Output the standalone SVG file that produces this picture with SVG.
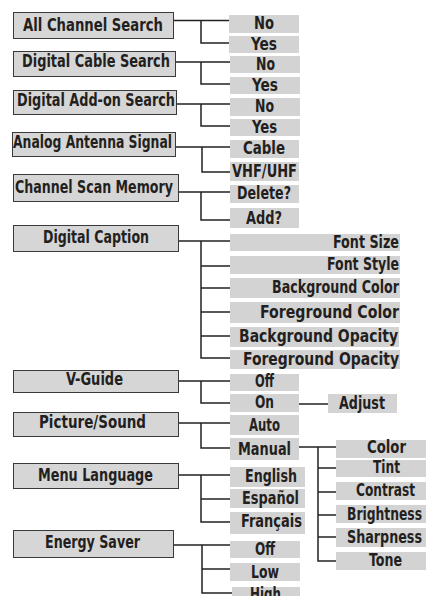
<svg xmlns="http://www.w3.org/2000/svg" width="426" height="596" viewBox="0 0 426 596">
<style>
.mb{fill:#d6d6d6;stroke:#3a3a3a;stroke-width:1}
.sb{fill:#d3d3d3}
text{font-family:"Liberation Sans Narrow","DejaVu Sans Condensed","Liberation Sans",Arial,sans-serif;font-weight:bold;font-size:17.5px;fill:#231f20}
.big{font-size:18.5px}
.c{fill:none;stroke:#222;stroke-width:1.5}
</style>
<rect width="426" height="596" fill="#fff"/>
<g id="connectors" class="c">
<path d="M174 20.5H229M201 20.5V43H229"/>
<path d="M176 62H230M201 62V84H230"/>
<path d="M177 104H230M201 104V126H230"/>
<path d="M176 147H230M202 147V172H230"/>
<path d="M179 192H230M201 192V220H230"/>
<path d="M179 241H230M201 241V358H230M201 266H230M201 288H230M201 312H230M201 336H230"/>
<path d="M179 381H230M201 381V403H230M299 404H328"/>
<path d="M179 423H230M201 423V448H230M299 447H336M318 447V561H336M318 468H336M318 492H336M318 515H336M318 537H336"/>
<path d="M179 475H230M201 475V522H230M201 499H230"/>
<path d="M174 545H230M202 545V593H232M202 569H230"/>
</g>
<g id="all-channel-search"><rect class="mb" x="13.5" y="12.5" width="160" height="26"/><text x="23" y="31" textLength="140" lengthAdjust="spacingAndGlyphs">All Channel Search</text></g>
<g id="digital-cable-search"><rect class="mb" x="13.5" y="51.5" width="162" height="25"/><text x="22" y="67" textLength="148" lengthAdjust="spacingAndGlyphs">Digital Cable Search</text></g>
<g id="digital-addon-search"><rect class="mb" x="13.5" y="90.5" width="163" height="24"/><text x="17" y="106" textLength="158" lengthAdjust="spacingAndGlyphs">Digital Add-on Search</text></g>
<g id="analog-antenna-signal"><rect class="mb" x="12.5" y="132.5" width="163" height="24"/><text x="13" y="148" textLength="159" lengthAdjust="spacingAndGlyphs">Analog Antenna Signal</text></g>
<g id="channel-scan-memory"><rect class="mb" x="13.5" y="174.5" width="165" height="27"/><text x="15" y="193" textLength="158" lengthAdjust="spacingAndGlyphs">Channel Scan Memory</text></g>
<g id="digital-caption"><rect class="mb" x="13.5" y="225.5" width="165" height="26"/><text x="43" y="243" textLength="106" lengthAdjust="spacingAndGlyphs">Digital Caption</text></g>
<g id="v-guide"><rect class="mb" x="13.5" y="370.5" width="165" height="22"/><text x="66" y="385" textLength="57" lengthAdjust="spacingAndGlyphs">V-Guide</text></g>
<g id="picture-sound"><rect class="mb" x="13.5" y="412.5" width="165" height="24"/><text x="39" y="428" textLength="107" lengthAdjust="spacingAndGlyphs">Picture/Sound</text></g>
<g id="menu-language"><rect class="mb" x="13.5" y="463.5" width="165" height="25"/><text x="38" y="481" textLength="115" lengthAdjust="spacingAndGlyphs">Menu Language</text></g>
<g id="energy-saver"><rect class="mb" x="13.5" y="530.5" width="160" height="27"/><text x="45" y="548" textLength="95" lengthAdjust="spacingAndGlyphs">Energy Saver</text></g>

<g id="acs-no"><rect class="sb" x="229" y="15" width="70" height="18"/><text x="254" y="29" textLength="20" lengthAdjust="spacingAndGlyphs">No</text></g>
<g id="acs-yes"><rect class="sb" x="229" y="36" width="70" height="17"/><text x="251" y="50" textLength="26" lengthAdjust="spacingAndGlyphs">Yes</text></g>
<g id="dcs-no"><rect class="sb" x="230" y="56" width="70" height="17"/><text x="256" y="70" textLength="19" lengthAdjust="spacingAndGlyphs">No</text></g>
<g id="dcs-yes"><rect class="sb" x="230" y="77" width="70" height="17"/><text x="252" y="91" textLength="26" lengthAdjust="spacingAndGlyphs">Yes</text></g>
<g id="das-no"><rect class="sb" x="230" y="98" width="70" height="18"/><text x="255" y="112" textLength="19" lengthAdjust="spacingAndGlyphs">No</text></g>
<g id="das-yes"><rect class="sb" x="230" y="119" width="70" height="17"/><text x="252" y="133" textLength="25" lengthAdjust="spacingAndGlyphs">Yes</text></g>
<g id="cable"><rect class="sb" x="230" y="140" width="69" height="18"/><text x="243" y="154" textLength="42" lengthAdjust="spacingAndGlyphs">Cable</text></g>
<g id="vhf-uhf"><rect class="sb" x="230" y="162" width="69" height="19"/><text x="232" y="177" textLength="65" lengthAdjust="spacingAndGlyphs">VHF/UHF</text></g>
<g id="delete"><rect class="sb" x="230" y="185" width="69" height="18"/><text x="237" y="199" textLength="54" lengthAdjust="spacingAndGlyphs">Delete?</text></g>
<g id="add"><rect class="sb" x="230" y="208" width="69" height="20"/><text x="246" y="224" textLength="36" lengthAdjust="spacingAndGlyphs">Add?</text></g>

<g id="font-size"><rect class="sb" x="230" y="234" width="170" height="17"/><text x="333" y="248" textLength="66" lengthAdjust="spacingAndGlyphs">Font Size</text></g>
<g id="font-style"><rect class="sb" x="230" y="256" width="170" height="18"/><text x="327" y="270" textLength="72" lengthAdjust="spacingAndGlyphs">Font Style</text></g>
<g id="background-color"><rect class="sb" x="230" y="278" width="170" height="20"/><text x="272" y="293" textLength="127" lengthAdjust="spacingAndGlyphs">Background Color</text></g>
<g id="foreground-color"><rect class="sb" x="230" y="302" width="170" height="21"/><text class="big" x="260" y="318" textLength="139" lengthAdjust="spacingAndGlyphs">Foreground Color</text></g>
<g id="background-opacity"><rect class="sb" x="230" y="327" width="169" height="20"/><text class="big" x="239" y="342" textLength="159" lengthAdjust="spacingAndGlyphs">Background Opacity</text></g>
<g id="foreground-opacity"><rect class="sb" x="230" y="350" width="170" height="19"/><text class="big" x="243" y="365" textLength="156" lengthAdjust="spacingAndGlyphs">Foreground Opacity</text></g>

<g id="vg-off"><rect class="sb" x="230" y="374" width="69" height="17"/><text x="255" y="387" textLength="19" lengthAdjust="spacingAndGlyphs">Off</text></g>
<g id="vg-on"><rect class="sb" x="230" y="394" width="69" height="18"/><text x="255" y="408" textLength="19" lengthAdjust="spacingAndGlyphs">On</text></g>
<g id="adjust"><rect class="sb" x="328" y="394" width="69" height="19"/><text x="339" y="409" textLength="46" lengthAdjust="spacingAndGlyphs">Adjust</text></g>
<g id="auto"><rect class="sb" x="230" y="415" width="69" height="20"/><text x="249" y="431" textLength="31" lengthAdjust="spacingAndGlyphs">Auto</text></g>
<g id="manual"><rect class="sb" x="230" y="438" width="69" height="22"/><text x="238" y="455" textLength="53" lengthAdjust="spacingAndGlyphs">Manual</text></g>
<g id="color"><rect class="sb" x="336" y="440" width="90" height="18"/><text x="367" y="453" textLength="39" lengthAdjust="spacingAndGlyphs">Color</text></g>
<g id="tint"><rect class="sb" x="336" y="460" width="90" height="17"/><text x="373" y="473" textLength="27" lengthAdjust="spacingAndGlyphs">Tint</text></g>
<g id="contrast"><rect class="sb" x="336" y="482" width="90" height="18"/><text x="356" y="496" textLength="59" lengthAdjust="spacingAndGlyphs">Contrast</text></g>
<g id="brightness"><rect class="sb" x="336" y="505" width="90" height="18"/><text x="347" y="520" textLength="75" lengthAdjust="spacingAndGlyphs">Brightness</text></g>
<g id="sharpness"><rect class="sb" x="336" y="528" width="90" height="19"/><text x="347" y="543" textLength="75" lengthAdjust="spacingAndGlyphs">Sharpness</text></g>
<g id="tone"><rect class="sb" x="336" y="552" width="90" height="18"/><text x="369" y="566" textLength="33" lengthAdjust="spacingAndGlyphs">Tone</text></g>

<g id="english"><rect class="sb" x="230" y="467" width="75" height="20"/><text x="245" y="482" textLength="52" lengthAdjust="spacingAndGlyphs">English</text></g>
<g id="espanol"><rect class="sb" x="230" y="489" width="75" height="19"/><text x="242" y="504" textLength="57" lengthAdjust="spacingAndGlyphs">Español</text></g>
<g id="francais"><rect class="sb" x="230" y="512" width="75" height="22"/><text x="241" y="527" textLength="61" lengthAdjust="spacingAndGlyphs">Français</text></g>

<g id="es-off"><rect class="sb" x="230" y="541" width="70" height="17"/><text x="255" y="555" textLength="20" lengthAdjust="spacingAndGlyphs">Off</text></g>
<g id="es-low"><rect class="sb" x="230" y="563" width="70" height="18"/><text x="251" y="578" textLength="28" lengthAdjust="spacingAndGlyphs">Low</text></g>
<g id="es-high"><rect class="sb" x="232" y="587" width="68" height="12"/><text x="250" y="600" textLength="31" lengthAdjust="spacingAndGlyphs">High</text></g>
</svg>
